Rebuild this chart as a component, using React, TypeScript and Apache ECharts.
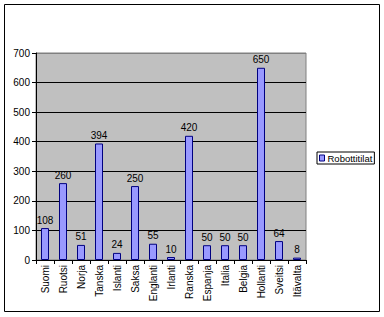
import React, { useEffect, useRef } from "react";
import * as echarts from "echarts";

const categories = ["Suomi", "Ruotsi", "Norja", "Tanska", "Islanti", "Saksa", "Englanti", "Irlanti", "Ranska", "Espanja", "Italia", "Belgia", "Hollanti", "Sveitsi", "Itävalta"];
const values = [108, 260, 51, 394, 24, 250, 55, 10, 420, 50, 50, 50, 650, 64, 8];
const seriesName = "Robottitilat";

export default function App() {
  const ref = useRef<HTMLDivElement>(null);
  useEffect(() => {
    if (!ref.current) return;
    const chart = echarts.init(ref.current, null, { renderer: "svg" });
    const font = "Liberation Sans, Arial, sans-serif";
    chart.setOption({
      animation: false,
      backgroundColor: "#ffffff",
      textStyle: { fontFamily: font },
      graphic: [
        {
          type: "rect",
          shape: { x: 4.5, y: 4.5, width: 375, height: 307 },
          style: { fill: "none", stroke: "#000", lineWidth: 1 },
          z: 100,
        },
      ],
      grid: {
        left: 36,
        top: 53,
        right: 78,
        bottom: 57,
        show: true,
        backgroundColor: "#C0C0C0",
        borderColor: "#808080",
        borderWidth: 1,
      },
      legend: {
        left: 317,
        top: 152,
        orient: "vertical",
        borderColor: "#000",
        borderWidth: 1,
        padding: [1, 2, 1, 2],
        itemWidth: 5,
        itemHeight: 6,
        itemGap: 0,
        icon: "rect",
        itemStyle: { color: "#9999FF", borderColor: "#000080", borderWidth: 1 },
        textStyle: { fontFamily: font, fontSize: 9.5, color: "#000", padding: [0, 0, 0, -2] },
        data: [seriesName],
      },
      xAxis: {
        type: "category",
        data: categories,
        boundaryGap: true,
        axisLine: { lineStyle: { color: "#000", width: 1 } },
        axisTick: { show: true, interval: 0, length: 4, alignWithLabel: false, lineStyle: { color: "#000" } },
        axisLabel: { interval: 0, rotate: 90, fontSize: 10, color: "#000", fontFamily: font, margin: 5 },
        splitLine: { show: false },
      },
      yAxis: {
        type: "value",
        min: 0,
        max: 700,
        interval: 100,
        axisLine: { show: true, lineStyle: { color: "#000", width: 1 } },
        axisTick: { show: true, length: 4, lineStyle: { color: "#000" } },
        axisLabel: { fontSize: 10, color: "#000", fontFamily: font, margin: 6 },
        splitLine: {
          show: true,
          lineStyle: { color: ["#000", "#000", "#000", "#000", "#000", "#000", "#000", "#808080"], width: 1 },
        },
      },
      series: [
        {
          name: seriesName,
          type: "bar",
          data: values,
          barWidth: 8,
          itemStyle: { color: "#9999FF", borderColor: "#000080", borderWidth: 1 },
          label: { show: true, position: "top", distance: 3, fontSize: 10, color: "#000", fontFamily: font },
        },
      ],
    });
    return () => chart.dispose();
  }, []);
  return <div ref={ref} style={{ position: "absolute", left: 0, top: 0, width: 384, height: 317 }} />;
}
